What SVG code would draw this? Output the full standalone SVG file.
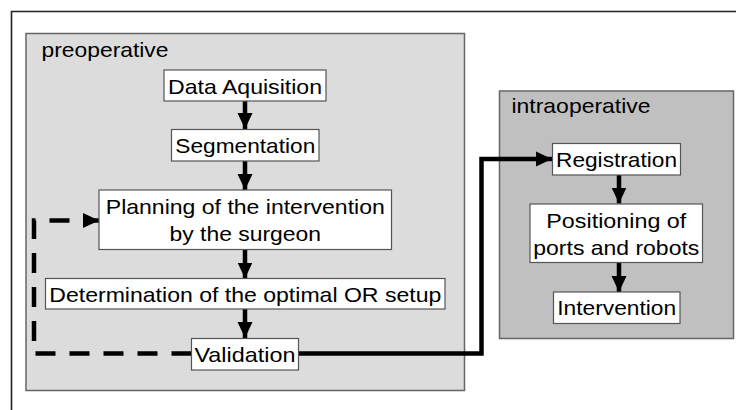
<svg xmlns="http://www.w3.org/2000/svg" width="736" height="410" viewBox="0 0 736 410">
<style>
  .lbl { font-family: "Liberation Sans", Arial, sans-serif; font-size: 21px; fill: #000; }
  .mid { text-anchor: middle; }
  .box { fill: #fff; stroke: #555; stroke-width: 1.2; }
  .conn { fill: none; stroke: #000; stroke-width: 4.5; }
  .dash { stroke-dasharray: 20 14; }
</style>
<defs>
  <marker id="ah" markerUnits="userSpaceOnUse" markerWidth="16" markerHeight="16" viewBox="0 0 16 16" refX="16" refY="8" orient="auto">
    <path d="M0,0.5 L16,8 L0,15.5 Z" fill="#000"/>
  </marker>
</defs>
<rect x="0" y="0" width="736" height="410" fill="#fff"/>
<path d="M11.5,410 V11.5 H736" fill="none" stroke="#222" stroke-width="1.6"/>

<g id="preoperative">
  <rect x="26" y="33.5" width="438.5" height="357" fill="#dcdcdc" stroke="#666" stroke-width="1.5"/>
  <text class="lbl" x="41.5" y="56.5" textLength="127" lengthAdjust="spacingAndGlyphs">preoperative</text>
</g>
<g id="intraoperative">
  <rect x="499.5" y="91" width="234" height="247.5" fill="#c0c0c0" stroke="#666" stroke-width="1.5"/>
  <text class="lbl" x="511.5" y="113" textLength="139" lengthAdjust="spacingAndGlyphs">intraoperative</text>
</g>

<g id="connectors">
  <path class="conn" d="M245,101 V129" marker-end="url(#ah)"/>
  <path class="conn" d="M245,161 V190" marker-end="url(#ah)"/>
  <path class="conn" d="M245,249.5 V278.5" marker-end="url(#ah)"/>
  <path class="conn" d="M245,309 V338" marker-end="url(#ah)"/>
  <path class="conn dash" d="M191.5,353.5 H34 V220.5 H99" marker-end="url(#ah)"/>
  <path class="conn" d="M298.5,353.5 H481.5 V159 H552" marker-end="url(#ah)"/>
  <path class="conn" d="M619,175 V203.5" marker-end="url(#ah)"/>
  <path class="conn" d="M619,263 V292" marker-end="url(#ah)"/>
</g>

<g id="data-aquisition">
  <rect class="box" x="164" y="70" width="162" height="31"/>
  <text class="lbl mid" x="245" y="93.5" textLength="154" lengthAdjust="spacingAndGlyphs">Data Aquisition</text>
</g>
<g id="segmentation">
  <rect class="box" x="171.5" y="129.5" width="147.5" height="31.5"/>
  <text class="lbl mid" x="245.3" y="153" textLength="140" lengthAdjust="spacingAndGlyphs">Segmentation</text>
</g>
<g id="planning">
  <rect class="box" x="99" y="190" width="292.5" height="59.5"/>
  <text class="lbl mid" x="245.3" y="214" textLength="279" lengthAdjust="spacingAndGlyphs">Planning of the intervention</text>
  <text class="lbl mid" x="245.3" y="240.5" textLength="151.5" lengthAdjust="spacingAndGlyphs">by the surgeon</text>
</g>
<g id="determination">
  <rect class="box" x="45.5" y="278.5" width="399.5" height="30.5"/>
  <text class="lbl mid" x="245.3" y="301.5" textLength="392" lengthAdjust="spacingAndGlyphs">Determination of the optimal OR setup</text>
</g>
<g id="validation">
  <rect class="box" x="191.5" y="338.5" width="107" height="31.5"/>
  <text class="lbl mid" x="245" y="362" textLength="101" lengthAdjust="spacingAndGlyphs">Validation</text>
</g>
<g id="registration">
  <rect class="box" x="552.5" y="143.5" width="128" height="31.5"/>
  <text class="lbl mid" x="616.5" y="167" textLength="121" lengthAdjust="spacingAndGlyphs">Registration</text>
</g>
<g id="positioning">
  <rect class="box" x="530" y="204" width="172.5" height="58.5"/>
  <text class="lbl mid" x="616.3" y="228.3" textLength="140" lengthAdjust="spacingAndGlyphs">Positioning of</text>
  <text class="lbl mid" x="616.3" y="255" textLength="166" lengthAdjust="spacingAndGlyphs">ports and robots</text>
</g>
<g id="intervention">
  <rect class="box" x="553.5" y="292" width="126.5" height="31.5"/>
  <text class="lbl mid" x="616.7" y="315" textLength="119" lengthAdjust="spacingAndGlyphs">Intervention</text>
</g>
</svg>
